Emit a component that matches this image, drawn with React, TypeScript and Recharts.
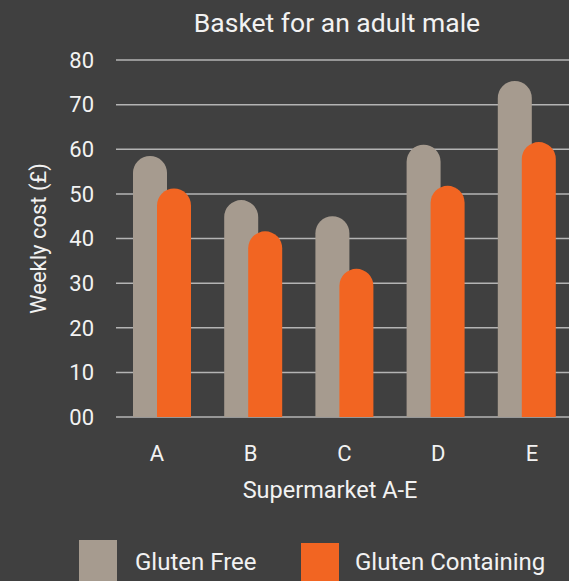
import React from 'react';
import { BarChart, Bar, XAxis, YAxis, CartesianGrid, Legend } from 'recharts';

const categories = ['A', 'B', 'C', 'D', 'E'];
const glutenFree = [58.5, 48.6, 45, 61, 75.3];
const glutenContaining = [51.2, 41.6, 33.2, 51.8, 61.6];
const yTicks = [0, 10, 20, 30, 40, 50, 60, 70, 80];
const seriesNames = ['Gluten Free', 'Gluten Containing'];

const data = categories.map((c, i) => ({ name: c, gf: glutenFree[i], gc: glutenContaining[i] }));

const BG = '#404040';
const TEXT = '#f2f2f2';
const GREY = '#a69b8f';
const ORANGE = '#f26522';
const FONT = 'Roboto, sans-serif';

const fmtTick = (v: number) => (v === 0 ? '00' : String(v));

const renderLegend = () => (
  <div style={{ position: 'relative', width: 569, height: 51, fontFamily: FONT }}>
    <div style={{ position: 'absolute', left: 79, top: 10, width: 38, height: 45, background: GREY }} />
    <div style={{ position: 'absolute', left: 135, top: 18, fontSize: 24, color: TEXT, lineHeight: '28px', whiteSpace: 'nowrap' }}>{seriesNames[0]}</div>
    <div style={{ position: 'absolute', left: 301, top: 13, width: 38, height: 45, background: ORANGE }} />
    <div style={{ position: 'absolute', left: 355, top: 18, fontSize: 24, color: TEXT, lineHeight: '28px', whiteSpace: 'nowrap' }}>{seriesNames[1]}</div>
  </div>
);

const YLabel = (props: any) => {
  const vb = props.viewBox || {};
  const cx = 38;
  const cy = vb.y + vb.height / 2;
  return (
    <text x={cx} y={cy} transform={`rotate(-90, ${cx}, ${cy})`} textAnchor="middle" dominantBaseline="central" fill={TEXT} fontSize={22} fontFamily={FONT}>
      Weekly cost (£)
    </text>
  );
};

const XLabel = () => (
  <text x={330} y={490} textAnchor="middle" dominantBaseline="central" fill={TEXT} fontSize={23.5} fontFamily={FONT}>
    Supermarket A-E
  </text>
);

export default function App() {
  return (
    <div style={{ position: 'absolute', left: 0, top: 0, width: 569, height: 581, overflow: 'hidden', background: BG }}>
      <div style={{ position: 'absolute', left: 0, top: 0, width: 569, height: 581 }}>
        <BarChart
          width={573}
          height={581}
          data={data}
          margin={{ top: 60, right: 1, bottom: 0, left: 0 }}
          barSize={34}
          barGap={-10}
        >
          <CartesianGrid vertical={false} stroke="#b4b4b4" strokeWidth={1.5} />
          <XAxis dataKey="name" hide height={0} />
          <XAxis
            xAxisId="lbl"
            dataKey="name"
            axisLine={false}
            tickLine={false}
            height={164}
            tickMargin={22}
            padding={{ left: -6, right: -7 }}
            tick={{ fill: TEXT, fontSize: 22, fontFamily: FONT }}
            label={<XLabel />}
          />
          <YAxis
            domain={[0, 80]}
            ticks={yTicks}
            width={116}
            axisLine={false}
            tickLine={false}
            tickMargin={16}
            tickFormatter={fmtTick}
            tick={{ fill: TEXT, fontSize: 22, fontFamily: FONT }}
            label={<YLabel />}
            interval={0}
          />
          <Bar dataKey="gf" name={seriesNames[0]} fill={GREY} radius={[17, 17, 0, 0]} isAnimationActive={false} />
          <Bar dataKey="gc" name={seriesNames[1]} fill={ORANGE} radius={[17, 17, 0, 0]} isAnimationActive={false} />
          <Legend
            layout="horizontal"
            verticalAlign="middle"
            align="center"
            wrapperStyle={{ top: 530, left: 0, width: 569, height: 51 }}
            content={renderLegend}
          />
        </BarChart>
      </div>
      <div style={{ position: 'absolute', left: 0, width: 674, top: 8, textAlign: 'center', fontFamily: FONT, fontSize: 26.5, color: TEXT, lineHeight: '30px', whiteSpace: 'nowrap' }}>
        Basket for an adult male
      </div>
    </div>
  );
}
